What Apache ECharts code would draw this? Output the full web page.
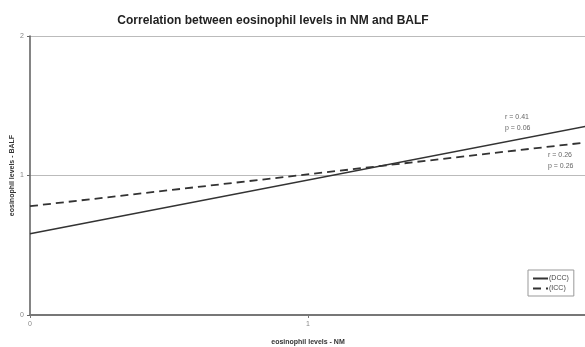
<!DOCTYPE html>
<html>
<head>
<meta charset="utf-8">
<script src="https://cdn.jsdelivr.net/npm/echarts@6/dist/echarts.min.js"></script>
<style>
  html, body { margin: 0; padding: 0; background: #fff; }
  #chart { width: 585px; height: 347px; }
</style>
</head>
<body>
<div id="chart"></div>
<script>
// Regression lines of BALF eosinophils against NM eosinophils
const xLevels = [0, 2];
const dccValues = [0.583, 1.353];
const iccValues = [0.78, 1.237];
const seriesNames = ['(DCC)', '(ICC)'];
const dccStats = ['r = 0.41', 'p = 0.06'];
const iccStats = ['r = 0.26', 'p = 0.26'];

const toPairs = (xs, ys) => xs.map((x, i) => [x, ys[i]]);

const font = 'Arial, "Liberation Sans", sans-serif';
const chart = echarts.init(document.getElementById('chart'));

chart.setOption({
  animation: false,
  backgroundColor: '#fff',
  title: {
    text: 'Correlation between eosinophil levels in NM and BALF',
    left: 268,
    top: 10,
    textAlign: 'center',
    textStyle: { fontFamily: font, fontSize: 12, fontWeight: 'bold', color: '#222' }
  },
  grid: { left: 30, right: -1, top: 36, bottom: 32, containLabel: false, outerBoundsMode: 'none' },
  legend: {
    orient: 'vertical',
    left: 528,
    top: 270,
    padding: [5, 5, 4, 4],
    itemGap: 3,
    itemWidth: 15,
    itemHeight: 6,
    borderColor: '#999',
    borderWidth: 1,
    data: seriesNames,
    itemStyle: { opacity: 0 },
    textStyle: { fontFamily: font, fontSize: 7, color: '#444', padding: [0, 0, 0, -4] }
  },
  xAxis: {
    type: 'value',
    min: 0,
    max: 2,
    interval: 1,
    name: 'eosinophil levels - NM',
    nameLocation: 'middle',
    nameGap: 24,
    nameMoveOverlap: false,
    nameTextStyle: { fontFamily: font, fontSize: 7, fontWeight: 'bold', color: '#333' },
    axisLine: { show: true, lineStyle: { color: '#777', width: 2 } },
    axisTick: { show: true, length: 3, lineStyle: { color: '#777' } },
    axisLabel: { fontFamily: font, fontSize: 7, color: '#888', margin: 6, showMaxLabel: false },
    splitLine: { show: false }
  },
  yAxis: {
    type: 'value',
    min: 0,
    max: 2,
    interval: 1,
    name: 'eosinophil levels - BALF',
    nameLocation: 'middle',
    nameGap: 14,
    nameMoveOverlap: false,
    nameTextStyle: { fontFamily: font, fontSize: 7, fontWeight: 'bold', color: '#333' },
    axisLine: { show: true, lineStyle: { color: '#666', width: 1.6 } },
    axisTick: { show: true, length: 3, lineStyle: { color: '#666' } },
    axisLabel: { fontFamily: font, fontSize: 7, color: '#888', margin: 6 },
    splitLine: { show: true, lineStyle: { color: '#bbb', width: 1.2 } }
  },
  series: [
    {
      name: seriesNames[0],
      type: 'line',
      symbol: 'none',
      data: toPairs(xLevels, dccValues),
      lineStyle: { color: '#333', width: 1.6 },
      itemStyle: { color: '#333' }
    },
    {
      name: seriesNames[1],
      type: 'line',
      symbol: 'none',
      data: toPairs(xLevels, iccValues),
      lineStyle: { color: '#333', width: 1.8, type: [8, 5] },
      itemStyle: { color: '#333' }
    }
  ],
  graphic: [
    { type: 'text', left: 505, top: 112, style: { text: dccStats.join('\n'), font: '7px ' + font, fill: '#666', lineHeight: 11 } },
    { type: 'text', left: 548, top: 150, style: { text: iccStats.join('\n'), font: '7px ' + font, fill: '#666', lineHeight: 11 } }
  ]
});
</script>
</body>
</html>
